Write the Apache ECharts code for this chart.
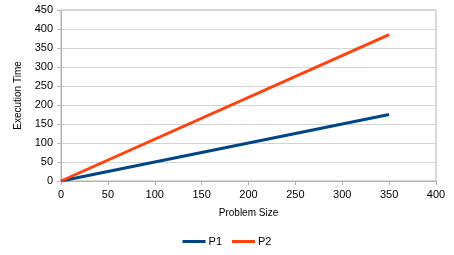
<!DOCTYPE html>
<html><head><meta charset="utf-8">
<script src="https://cdn.jsdelivr.net/npm/echarts@6/dist/echarts.min.js"></script>
<style>html,body{margin:0;padding:0;background:#fff}#c{width:454px;height:255px}</style>
</head><body><div id="c"></div>
<script>
const seriesNames = ['P1', 'P2'];
const p1 = [[0, 0], [350, 175]];
const p2 = [[0, 0], [350, 385]];
const colors = ['#004586', '#ff420e'];
const chart = echarts.init(document.getElementById('c'), null, {renderer: 'canvas'});
const font = '"Liberation Sans", Arial, sans-serif';
chart.setOption({
  animation: false,
  textStyle: {fontFamily: font},
  grid: {left: 61, right: 18, top: 10, bottom: 74, show: true, borderColor: '#b3b3b3', borderWidth: 1},
  legend: {
    bottom: 3, left: 'center', itemWidth: 23, itemHeight: 3, itemGap: 10,
    icon: 'rect',
    textStyle: {fontFamily: font, fontSize: 11, color: '#000', padding: [0, 0, 0, -2]},
    data: seriesNames
  },
  xAxis: {
    type: 'value', min: 0, max: 400, interval: 50,
    name: 'Problem Size', nameLocation: 'middle', nameGap: 27,
    nameTextStyle: {fontFamily: font, fontSize: 10, color: '#000'},
    axisLine: {show: true, lineStyle: {color: '#b3b3b3'}},
    axisTick: {show: true, length: 4, lineStyle: {color: '#b3b3b3'}},
    axisLabel: {fontFamily: font, fontSize: 11, color: '#000', margin: 8},
    splitLine: {show: false}
  },
  yAxis: {
    type: 'value', min: 0, max: 450, interval: 50,
    name: 'Execution Time', nameLocation: 'middle', nameGap: 34,
    nameTextStyle: {fontFamily: font, fontSize: 10, color: '#000'},
    axisLine: {show: true, lineStyle: {color: '#b3b3b3'}},
    axisTick: {show: true, length: 4, lineStyle: {color: '#b3b3b3'}},
    axisLabel: {fontFamily: font, fontSize: 11, color: '#000', margin: 8},
    splitLine: {show: true, lineStyle: {color: '#d4d4d4'}}
  },
  series: [
    {name: seriesNames[0], type: 'line', data: p1, showSymbol: false, lineStyle: {width: 3, color: colors[0]}, itemStyle: {color: colors[0]}},
    {name: seriesNames[1], type: 'line', data: p2, showSymbol: false, lineStyle: {width: 3, color: colors[1]}, itemStyle: {color: colors[1]}}
  ]
});
</script></body></html>
